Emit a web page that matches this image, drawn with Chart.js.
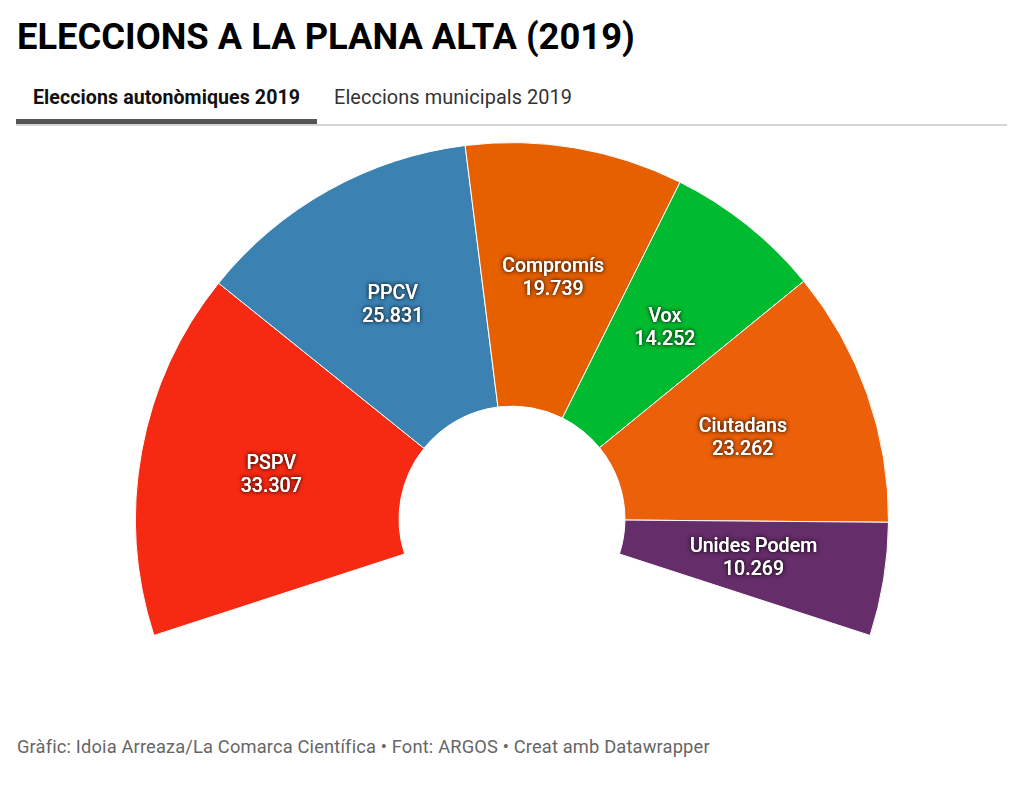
<!DOCTYPE html>
<html>
<head>
<meta charset="utf-8">
<script src="https://cdn.jsdelivr.net/npm/chart.js@4"></script>
<style>
html, body { margin: 0; padding: 0; background: #fff; font-family: Roboto, sans-serif; }
body { width: 1024px; height: 788px; position: relative; overflow: hidden; }
h1 { position: absolute; left: 17px; top: 15px; margin: 0; font-size: 36.35px; line-height: 44px; font-weight: 700; color: #000; white-space: nowrap; }
.tab { position: absolute; top: 85px; line-height: 25px; white-space: nowrap; letter-spacing: 0.08px; }
#tab1 { left: 33px; font-size: 19.6px; font-weight: 700; color: #111; }
#tab2 { left: 334px; font-size: 19.9px; color: #333; }
#rule { position: absolute; left: 16px; top: 124px; width: 991px; height: 2px; background: #d6d6d6; }
#active { position: absolute; left: 16px; top: 119px; width: 301px; height: 5px; background: #555; }
#wrap { position: absolute; left: 135px; top: 141px; width: 754px; height: 496px; }
#foot { position: absolute; left: 17px; top: 736px; font-size: 18.3px; line-height: 22px; color: #666; white-space: nowrap; letter-spacing: 0.16px; }
</style>
</head>
<body>
<h1>ELECCIONS A LA PLANA ALTA (2019)</h1>
<div class="tab" id="tab1">Eleccions autonòmiques 2019</div>
<div class="tab" id="tab2">Eleccions municipals 2019</div>
<div id="rule"></div>
<div id="active"></div>
<div id="wrap"><canvas id="parties"></canvas></div>
<div id="foot">Gràfic: Idoia Arreaza/La Comarca Científica • Font: ARGOS • Creat amb Datawrapper</div>
<script>
var parties = ['PSPV', 'PPCV', 'Compromís', 'Vox', 'Ciutadans', 'Unides Podem'];
var votes = [33307, 25831, 19739, 14252, 23262, 10269];
var voteLabels = ['33.307', '25.831', '19.739', '14.252', '23.262', '10.269'];
var partyColors = ['#f62a12', '#3b82b3', '#e66000', '#00bb2f', '#eb6009', '#662d6b'];

// names and votes in the middle of each slice
var sliceLabels = {
    id: 'sliceLabels',
    afterDatasetsDraw: function(chart) {
        var ctx = chart.ctx;
        chart.getDatasetMeta(0).data.forEach(function(arc, i) {
            var p = arc.getCenterPoint();
            ctx.save();
            ctx.font = '500 19.6px Roboto';
            ctx.textAlign = 'center';
            ctx.textBaseline = 'middle';
            ctx.fillStyle = '#fff';
            ctx.shadowColor = 'rgba(0,0,0,0.6)';
            ctx.shadowBlur = 4;
            // twice, so the dark halo round the letters is strong enough
            for (var n = 0; n < 2; n++) {
                ctx.fillText(parties[i], p.x, p.y - 11);
                ctx.fillText(voteLabels[i], p.x, p.y + 12);
            }
            ctx.restore();
        });
    }
};

new Chart(document.getElementById('parties'), {
    type: 'doughnut',
    data: {
        labels: parties,
        datasets: [{
            data: votes,
            backgroundColor: partyColors,
            borderColor: '#fff',
            borderWidth: 1
        }]
    },
    options: {
        responsive: true,
        maintainAspectRatio: false,
        animation: false,
        rotation: -108,
        circumference: 216,
        cutout: '30%',
        layout: { padding: 0 },
        plugins: {
            legend: { display: false },
            tooltip: { enabled: false }
        }
    },
    plugins: [sliceLabels]
});
</script>
</body>
</html>
